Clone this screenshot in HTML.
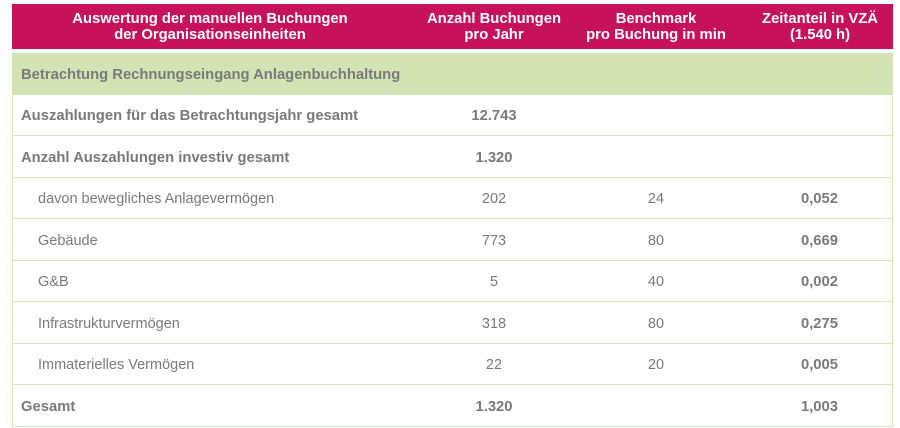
<!DOCTYPE html>
<html><head><meta charset="utf-8"><style>
body{margin:0;width:900px;height:428px;background:#fff;font-family:"Liberation Sans",sans-serif;position:relative;overflow:hidden}
.h{position:absolute;left:12px;top:4px;width:881px;height:45px;background:#c8115b}
.ht{position:absolute;color:#fff;font-weight:bold;font-size:14.8px;line-height:16px;text-align:center}
.g{position:absolute;left:12px;top:53px;width:881px;height:42px;background:#d3e3b4}
.r{position:absolute;left:12px;width:879px;height:40px;border:1px solid #d6e7bc;border-top:none}
.t{position:absolute;color:#7a7a7a;font-size:14.5px;line-height:16px;margin-top:1px}
.b{font-weight:bold;font-size:14.8px}
.c{text-align:center;width:100px}
.rt{text-align:right;width:100px}
</style></head><body>
<div class="h"></div>
<div class="ht" style="left:30px;width:360px;top:11px">Auswertung der manuellen Buchungen<br>der Organisationseinheiten</div>
<div class="ht" style="left:414px;width:160px;top:11px">Anzahl Buchungen<br>pro Jahr</div>
<div class="ht" style="left:566px;width:180px;top:11px">Benchmark<br>pro Buchung in min</div>
<div class="ht" style="left:740px;width:160px;top:11px">Zeitanteil in VZÄ<br>(1.540 h)</div>
<div class="g"></div>
<div class="t b" style="left:21px;top:66px">Betrachtung Rechnungseingang Anlagenbuchhaltung</div>

<div class="r" style="top:95px"></div>
<div class="r" style="top:136px;height:41px"></div>
<div class="r" style="top:178px"></div>
<div class="r" style="top:219px;height:41px"></div>
<div class="r" style="top:261px"></div>
<div class="r" style="top:302px;height:41px"></div>
<div class="r" style="top:344px"></div>
<div class="r" style="top:385px;height:41px"></div>

<div class="t b" style="left:21px;top:107px">Auszahlungen für das Betrachtungsjahr gesamt</div>
<div class="t b c" style="left:444px;top:107px">12.743</div>
<div class="t b" style="left:21px;top:149px">Anzahl Auszahlungen investiv gesamt</div>
<div class="t b c" style="left:444px;top:149px">1.320</div>

<div class="t" style="left:38px;top:190px">davon bewegliches Anlagevermögen</div>
<div class="t c" style="left:444px;top:190px">202</div>
<div class="t c" style="left:606px;top:190px">24</div>
<div class="t b rt" style="left:738px;top:190px">0,052</div>

<div class="t" style="left:38px;top:232px">Gebäude</div>
<div class="t c" style="left:444px;top:232px">773</div>
<div class="t c" style="left:606px;top:232px">80</div>
<div class="t b rt" style="left:738px;top:232px">0,669</div>

<div class="t" style="left:38px;top:273px">G&amp;B</div>
<div class="t c" style="left:444px;top:273px">5</div>
<div class="t c" style="left:606px;top:273px">40</div>
<div class="t b rt" style="left:738px;top:273px">0,002</div>

<div class="t" style="left:38px;top:315px">Infrastrukturvermögen</div>
<div class="t c" style="left:444px;top:315px">318</div>
<div class="t c" style="left:606px;top:315px">80</div>
<div class="t b rt" style="left:738px;top:315px">0,275</div>

<div class="t" style="left:38px;top:356px">Immaterielles Vermögen</div>
<div class="t c" style="left:444px;top:356px">22</div>
<div class="t c" style="left:606px;top:356px">20</div>
<div class="t b rt" style="left:738px;top:356px">0,005</div>

<div class="t b" style="left:21px;top:398px">Gesamt</div>
<div class="t b c" style="left:444px;top:398px">1.320</div>
<div class="t b rt" style="left:738px;top:398px">1,003</div>
</body></html>
